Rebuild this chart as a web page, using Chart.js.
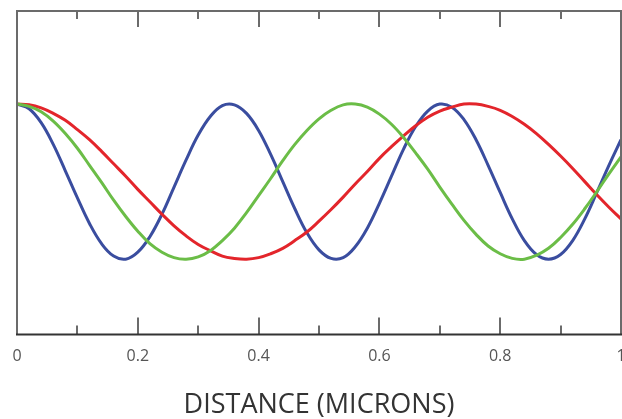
<!DOCTYPE html>
<html>
<head>
<meta charset="utf-8">
<script src="https://cdn.jsdelivr.net/npm/chart.js@4.4.1/dist/chart.umd.min.js"></script>
<style>
  html, body { margin: 0; padding: 0; background: #fff; }
  #wrap { width: 622px; height: 419px; overflow: hidden; position: relative; }
  #chart { display: block; }
</style>
</head>
<body>
<div id="wrap"><canvas id="chart" width="640" height="419"></canvas></div>
<script>
// distance in microns
const distance = [0, 0.02, 0.04, 0.06, 0.08, 0.10, 0.12, 0.14, 0.16, 0.18,
    0.20, 0.22, 0.24, 0.26, 0.28, 0.30, 0.32, 0.34, 0.36, 0.38,
    0.40, 0.42, 0.44, 0.46, 0.48, 0.50, 0.52, 0.54, 0.56, 0.58,
    0.60, 0.62, 0.64, 0.66, 0.68, 0.70, 0.72, 0.74, 0.76, 0.78,
    0.80, 0.82, 0.84, 0.86, 0.88, 0.90, 0.92, 0.94, 0.96, 0.98, 1.00];

const redValues = [1.00, 0.99, 0.95, 0.88, 0.79, 0.67, 0.54, 0.39, 0.23, 0.07,
    -0.10, -0.26, -0.42, -0.57, -0.70, -0.81, -0.89, -0.96, -0.99, -1.00,
    -0.98, -0.93, -0.86, -0.76, -0.65, -0.51, -0.36, -0.20, -0.03, 0.13,
    0.30, 0.45, 0.59, 0.72, 0.83, 0.91, 0.96, 1.00, 1.00, 0.97,
    0.92, 0.84, 0.74, 0.62, 0.48, 0.33, 0.17, 0.00, -0.17, -0.33, -0.48];

const greenValues = [1.00, 0.97, 0.90, 0.78, 0.62, 0.43, 0.21, -0.01, -0.24, -0.45,
    -0.64, -0.80, -0.91, -0.98, -1.00, -0.97, -0.89, -0.76, -0.60, -0.40,
    -0.18, 0.04, 0.27, 0.48, 0.66, 0.81, 0.92, 0.99, 1.00, 0.96,
    0.87, 0.74, 0.57, 0.37, 0.16, -0.07, -0.29, -0.50, -0.68, -0.83,
    -0.93, -0.99, -1.00, -0.95, -0.86, -0.72, -0.55, -0.35, -0.13, 0.10, 0.32];

const blueValues = [1.00, 0.94, 0.76, 0.48, 0.14, -0.21, -0.54, -0.80, -0.96, -1.00,
    -0.91, -0.71, -0.42, -0.07, 0.28, 0.60, 0.84, 0.98, 0.99, 0.88,
    0.66, 0.35, 0.00, -0.35, -0.66, -0.88, -0.99, -0.98, -0.84, -0.60,
    -0.28, 0.07, 0.42, 0.71, 0.91, 1.00, 0.96, 0.80, 0.54, 0.21,
    -0.14, -0.48, -0.76, -0.94, -1.00, -0.94, -0.76, -0.48, -0.14, 0.21, 0.54];

const tickValues = [0, 0.1, 0.2, 0.3, 0.4, 0.5, 0.6, 0.7, 0.8, 0.9, 1.0];
const tickLabels = ['0', '0.2', '0.4', '0.6', '0.8', '1'];

function toPoints(values) {
    return values.map(function (v, i) { return { x: distance[i], y: v }; });
}

// frame with inward ticks on top and bottom
const framePlugin = {
    id: 'frame',
    afterDraw: function (chart) {
        const ctx = chart.ctx;
        const area = chart.chartArea;
        const xs = chart.scales.x;
        ctx.save();
        ctx.lineCap = 'butt';
        ctx.strokeStyle = '#6b6b6b';
        ctx.lineWidth = 2;
        ctx.beginPath();
        ctx.moveTo(area.left, area.bottom);
        ctx.lineTo(area.left, area.top);
        ctx.lineTo(area.right, area.top);
        ctx.lineTo(area.right, area.bottom);
        ctx.stroke();

        tickValues.forEach(function (t, i) {
            const px = Math.round(xs.getPixelForValue(t));
            const len = i % 2 === 0 ? 17 : 9;
            ctx.beginPath();
            ctx.moveTo(px, area.bottom);
            ctx.lineTo(px, area.bottom - len);
            ctx.moveTo(px, area.top);
            ctx.lineTo(px, area.top + len - 1);
            ctx.stroke();
        });

        ctx.strokeStyle = '#333';
        ctx.lineWidth = 2;
        ctx.beginPath();
        ctx.moveTo(area.left - 1, area.bottom);
        ctx.lineTo(area.right + 1, area.bottom);
        ctx.stroke();
        ctx.restore();
    }
};

const ctx = document.getElementById('chart').getContext('2d');

new Chart(ctx, {
    type: 'line',
    data: {
        datasets: [{
            label: 'green',
            data: toPoints(greenValues),
            borderColor: '#6bbd47',
            borderWidth: 3,
            pointRadius: 0,
            tension: 0.4,
            fill: false
        }, {
            label: 'red',
            data: toPoints(redValues),
            borderColor: '#e3252b',
            borderWidth: 3,
            pointRadius: 0,
            tension: 0.4,
            fill: false
        }, {
            label: 'blue',
            data: toPoints(blueValues),
            borderColor: '#3a4d9f',
            borderWidth: 3,
            pointRadius: 0,
            tension: 0.4,
            fill: false
        }]
    },
    options: {
        responsive: false,
        animation: false,
        layout: {
            padding: { left: 17, right: 19, top: 11, bottom: 0 }
        },
        plugins: {
            legend: { display: false },
            tooltip: { enabled: false }
        },
        scales: {
            x: {
                type: 'linear',
                min: 0,
                max: 1,
                afterFit: function (scale) {
                    scale.paddingLeft = 0;
                    scale.paddingRight = 0;
                },
                grid: { display: false, drawTicks: false },
                border: { display: false },
                ticks: {
                    stepSize: 0.2,
                    padding: 12,
                    color: '#555',
                    maxRotation: 0,
                    font: { family: 'Open Sans', size: 16 },
                    callback: function (value, index) { return tickLabels[index]; }
                },
                title: {
                    display: true,
                    text: 'DISTANCE (MICRONS)',
                    color: '#333',
                    font: { family: 'Open Sans', size: 27 },
                    padding: { top: 12, bottom: -3 }
                }
            },
            y: {
                display: false,
                min: -1.97,
                max: 2.2
            }
        }
    },
    plugins: [framePlugin]
});
</script>
</body>
</html>
